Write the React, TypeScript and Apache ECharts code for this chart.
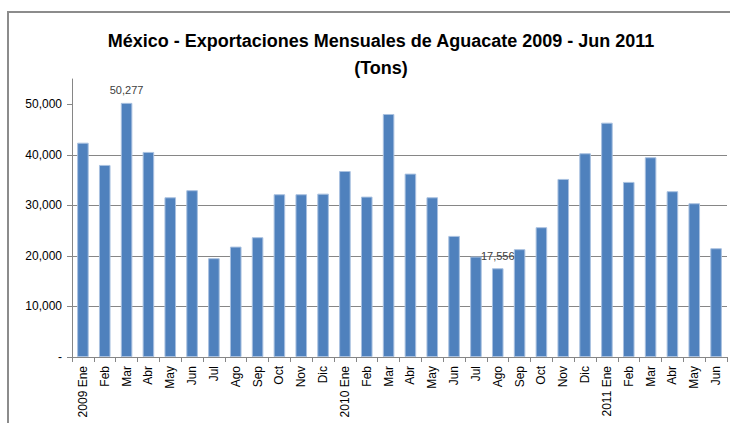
import React, { useEffect, useRef } from "react";
import * as echarts from "echarts";

const categories = [
  "2009 Ene", "Feb", "Mar", "Abr", "May", "Jun", "Jul", "Ago", "Sep", "Oct", "Nov", "Dic",
  "2010 Ene", "Feb", "Mar", "Abr", "May", "Jun", "Jul", "Ago", "Sep", "Oct", "Nov", "Dic",
  "2011 Ene", "Feb", "Mar", "Abr", "May", "Jun",
];

const exportsTons = [
  42400, 38000, 50277, 40570, 31600, 33000, 19550, 21840, 23700, 32200, 32200, 32320,
  36800, 31730, 48080, 36280, 31600, 23960, 19870, 17556, 21330, 25680, 35230, 40310,
  46360, 34640, 39520, 32800, 30420, 21520,
];

const labelledIndexes = [2, 19];

const yTicks = [0, 10000, 20000, 30000, 40000, 50000];

const titleLines = ["México - Exportaciones Mensuales de Aguacate 2009 - Jun 2011", "(Tons)"];

export default function App() {
  const ref = useRef<HTMLDivElement>(null);

  useEffect(() => {
    if (!ref.current) return;
    const chart = echarts.init(ref.current, null, { renderer: "svg" });
    const font = "'Liberation Sans', Arial, sans-serif";
    const grey = "#868686";
    chart.setOption({
      animation: false,
      backgroundColor: "#ffffff",
      textStyle: { fontFamily: font },
      title: {
        text: titleLines.join("\n"),
        left: 376,
        textAlign: "center",
        top: 22,
        textStyle: {
          fontFamily: font,
          fontSize: 18,
          fontWeight: "bold",
          color: "#000000",
          lineHeight: 27,
        },
      },
      graphic: [
        {
          type: "rect",
          shape: { x: 8, y: 12, width: 800, height: 500 },
          style: { fill: "none", stroke: "#8c8c8c", lineWidth: 2 },
          silent: true,
        },
      ],
      grid: { left: 72, right: 3, top: 79, bottom: 66, containLabel: false },
      xAxis: {
        type: "category",
        data: categories,
        boundaryGap: true,
        axisLine: { show: true, lineStyle: { color: grey, width: 1 } },
        axisTick: { show: true, interval: 0, length: 5, lineStyle: { color: grey } },
        axisLabel: {
          interval: 0,
          rotate: 90,
          fontSize: 12,
          color: "#000000",
          fontFamily: font,
          margin: 9,
        },
        splitLine: { show: false },
      },
      yAxis: {
        type: "value",
        min: 0,
        max: 55000,
        interval: 10000,
        axisLine: { show: true, lineStyle: { color: grey, width: 1 } },
        axisTick: { show: true, length: 5, lineStyle: { color: grey }, customValues: yTicks },
        axisLabel: {
          customValues: yTicks,
          fontSize: 12,
          color: "#000000",
          fontFamily: font,
          margin: 10,
          formatter: (v: number) => (v === 0 ? "-" : v.toLocaleString("en-US")),
        },
        splitLine: { show: true, showMaxLine: false, lineStyle: { color: grey, width: 1 } },
      },
      series: [
        {
          type: "bar",
          data: exportsTons.map((v, i) =>
            labelledIndexes.includes(i)
              ? {
                  value: v,
                  label: {
                    show: true,
                    position: "top",
                    distance: 7,
                    fontSize: 11,
                    color: "#404040",
                    fontFamily: font,
                    formatter: (p: any) => Number(p.value).toLocaleString("en-US"),
                  },
                }
              : v
          ),
          barCategoryGap: "47%",
          itemStyle: { color: "#4F81BD", borderColor: "#a9c1e0", borderWidth: 1 },
          clip: false,
        },
      ],
    });
    return () => chart.dispose();
  }, []);

  return (
    <div
      ref={ref}
      style={{ position: "fixed", left: 0, top: 0, width: 730, height: 423 }}
    />
  );
}
